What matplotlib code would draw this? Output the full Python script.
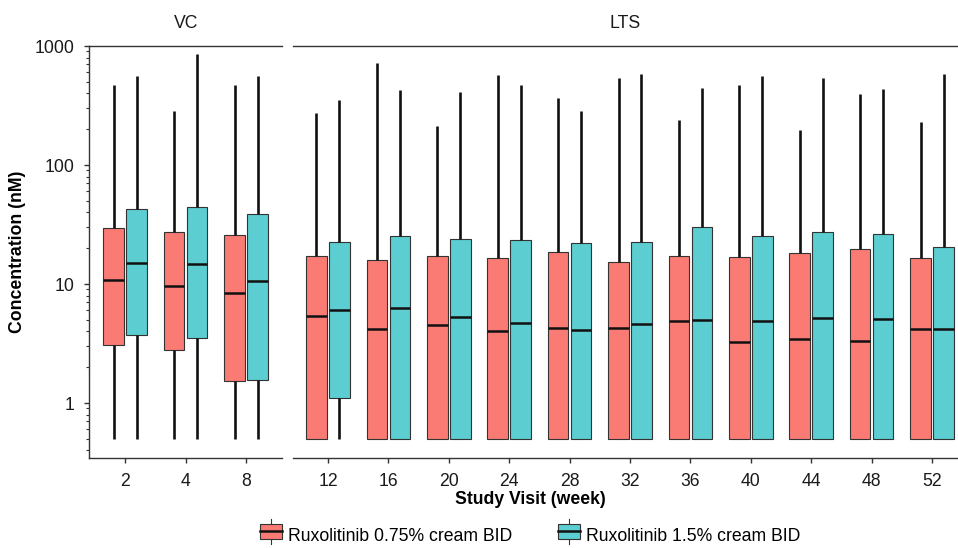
import numpy as np
import matplotlib
matplotlib.use('Agg')
import matplotlib.pyplot as plt
from matplotlib.patches import Rectangle
from matplotlib.lines import Line2D
from matplotlib.legend_handler import HandlerBase
import matplotlib.ticker as mtick

plt.rcParams['font.family'] = ['Liberation Sans', 'DejaVu Sans']

# Data (nM)
vc_weeks = ['2', '4', '8']
lts_weeks = ['12', '16', '20', '24', '28', '32', '36', '40', '44', '48', '52']

# Ruxolitinib 0.75% cream BID
low_min = [0.5, 0.5, 0.5, 0.5, 0.5, 0.5, 0.5, 0.5, 0.5, 0.5, 0.5, 0.5, 0.5, 0.5]
low_q1 = [3.07, 2.81, 1.53, 0.5, 0.5, 0.5, 0.5, 0.5, 0.5, 0.5, 0.5, 0.5, 0.5, 0.5]
low_med = [10.9, 9.6, 8.35, 5.4, 4.2, 4.5, 4.05, 4.25, 4.25, 4.9, 3.23, 3.45, 3.34, 4.16]
low_q3 = [29.4, 27.5, 26.0, 17.2, 16.0, 17.2, 16.4, 18.5, 15.4, 17.2, 16.9, 18.1, 19.8, 16.5]
low_max = [470, 284, 470, 272, 716, 214, 567, 368, 535, 239, 470, 197, 398, 230]

# Ruxolitinib 1.5% cream BID
high_min = [0.5, 0.5, 0.5, 0.5, 0.5, 0.5, 0.5, 0.5, 0.5, 0.5, 0.5, 0.5, 0.5, 0.5]
high_q1 = [3.73, 3.54, 1.56, 1.11, 0.5, 0.5, 0.5, 0.5, 0.5, 0.5, 0.5, 0.5, 0.5, 0.5]
high_med = [14.9, 14.7, 10.5, 6.05, 6.25, 5.3, 4.7, 4.1, 4.58, 4.98, 4.89, 5.18, 5.08, 4.16]
high_q3 = [42.4, 44.6, 38.7, 22.4, 25.5, 23.9, 23.3, 22.0, 22.4, 30.3, 25.5, 27.2, 26.1, 20.3]
high_max = [560, 857, 560, 352, 429, 408, 467, 284, 578, 444, 556, 542, 435, 578]

labels = ['Ruxolitinib 0.75% cream BID', 'Ruxolitinib 1.5% cream BID']
colors = ['#F97B73', '#5CCDD0']

fontsize = 12.7
W, H = 958, 548
box_w = 0.34
offset = 0.19

def make_stats(mn, q1, med, q3, mx):
    return [dict(whislo=a, q1=b, med=c, q3=d, whishi=e, fliers=[])
            for a, b, c, d, e in zip(mn, q1, med, q3, mx)]

low_stats = make_stats(low_min, low_q1, low_med, low_q3, low_max)
high_stats = make_stats(high_min, high_q1, high_med, high_q3, high_max)

fig = plt.figure(figsize=(W/100, H/100), dpi=100)
fig.patch.set_facecolor('white')

ax_vc = fig.add_axes([89/W, 1-458/H, 193.3/W, 412/H])
ax_lts = fig.add_axes([292.7/W, 1-458/H, (W-292.7)/W, 412/H])

panels = [(ax_vc, vc_weeks, slice(0, 3), 'VC'),
          (ax_lts, lts_weeks, slice(3, 14), 'LTS')]

for ax, weeks, sl, title in panels:
    pos = np.arange(len(weeks))
    for stats, c, d in zip([low_stats, high_stats], colors, [-offset, offset]):
        ax.bxp(stats[sl], positions=pos + d, widths=box_w, patch_artist=True,
               showcaps=False, showfliers=False,
               boxprops=dict(facecolor=c, edgecolor='#333333', linewidth=0.8),
               medianprops=dict(color='#111111', linewidth=1.8),
               whiskerprops=dict(color='#111111', linewidth=1.9, solid_capstyle='butt'))
    ax.set_yscale('log')
    ax.set_ylim(0.345, 1000)
    ax.set_xticks(pos)
    ax.set_xticklabels(weeks)
    ax.spines['right'].set_visible(False)
    for s in ['top', 'bottom', 'left']:
        ax.spines[s].set_color('#333333')
        ax.spines[s].set_linewidth(1.0)
    ax.tick_params(axis='x', length=3.6, width=1.0, color='#333333', pad=7,
                   labelsize=fontsize, labelcolor='#1a1a1a')
    ax.annotate(title, xy=(0.5, 1), xycoords='axes fraction', xytext=(0, 23*0.72),
                textcoords='offset points', ha='center', va='center',
                fontsize=fontsize, color='#1a1a1a')

ax_vc.set_xlim(-0.6, 2.6)
ax_lts.set_xlim(-0.584, 10.43)

ax_vc.yaxis.set_major_locator(mtick.LogLocator(base=10, numticks=10))
ax_vc.yaxis.set_minor_locator(mtick.LogLocator(base=10, subs=np.arange(2, 10), numticks=10))
ax_vc.yaxis.set_major_formatter(mtick.FuncFormatter(lambda v, p: '%g' % v))
ax_vc.yaxis.set_minor_formatter(mtick.NullFormatter())
ax_vc.tick_params(axis='y', which='major', length=3.6, width=1.0, color='#333333',
                  pad=7, labelsize=fontsize, labelcolor='#1a1a1a')
ax_vc.tick_params(axis='y', which='minor', length=2.4, width=0.8, color='#333333')

ax_lts.spines['left'].set_visible(False)
ax_lts.tick_params(axis='y', which='both', left=False, labelleft=False)

ax_vc.set_ylabel('Concentration (nM)', fontsize=fontsize, fontweight='bold', labelpad=6)
fig.text(530/W, 1-500/H, 'Study Visit (week)', ha='center', va='center',
         fontsize=fontsize, fontweight='bold')


# ggplot-like legend key: box with median and whisker
class BoxKey(HandlerBase):
    def create_artists(self, legend, orig, xd, yd, width, height, fontsize, trans):
        c = orig.get_facecolor()
        cx = xd + width / 2
        ym = yd + height / 2
        bh = 10.5
        wl = Line2D([cx, cx], [ym - 9, ym + 9], color='#333333', lw=0.8, transform=trans)
        rect = Rectangle((xd, ym - bh / 2), width, bh, facecolor=c, edgecolor='#333333',
                         lw=0.8, transform=trans)
        med = Line2D([xd, xd + width], [ym, ym], color='#111111', lw=1.8, transform=trans)
        return [wl, rect, med]

handles = [Rectangle((0, 0), 1, 1, facecolor=c) for c in colors]
fig.legend(handles, labels, handler_map={Rectangle: BoxKey()}, loc='center',
           bbox_to_anchor=(530/W, 1-536/H), ncol=2, frameon=False, fontsize=fontsize,
           handlelength=1.25, handleheight=1.0, handletextpad=0.35, columnspacing=2.6)

plt.savefig('out.png', dpi=100, facecolor='white')
